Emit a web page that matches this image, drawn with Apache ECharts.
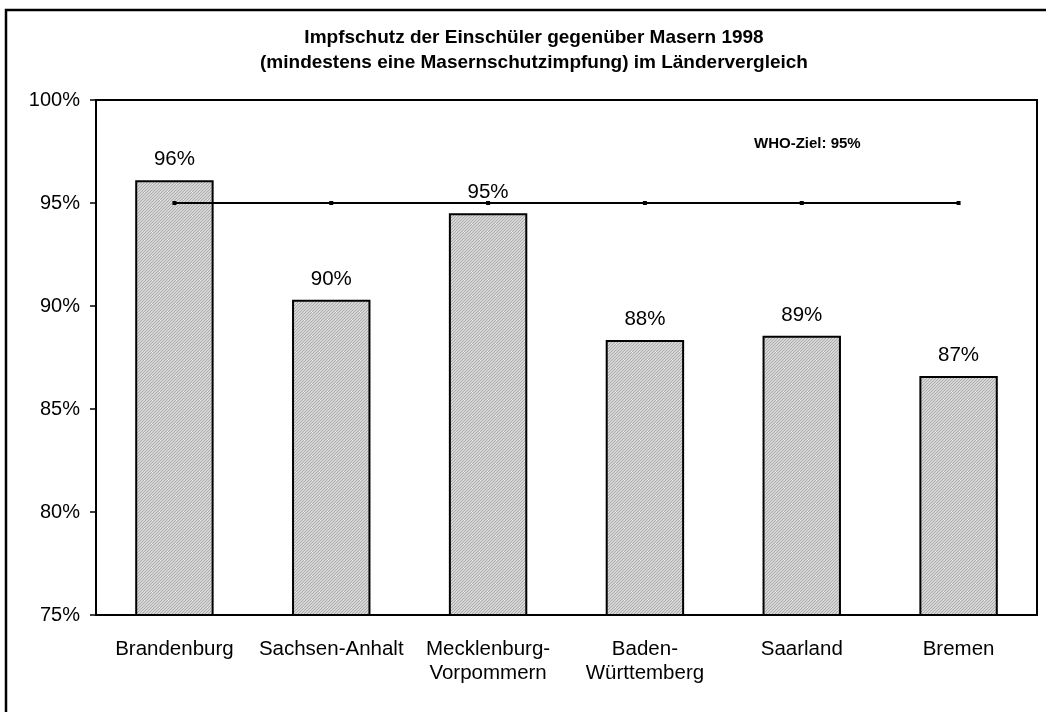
<!DOCTYPE html>
<html>
<head>
<meta charset="utf-8">
<script src="https://cdn.jsdelivr.net/npm/echarts@6/dist/echarts.min.js"></script>
<style>
html,body{margin:0;padding:0;background:#fff;}
#chart{width:1046px;height:712px;}
</style>
</head>
<body>
<div id="chart"></div>
<script>
const categories = ['Brandenburg', 'Sachsen-Anhalt', 'Mecklenburg-\nVorpommern', 'Baden-\nWürttemberg', 'Saarland', 'Bremen'];
const values = [96.1, 90.3, 94.5, 88.35, 88.55, 86.6];
const whoTarget = [95, 95, 95, 95, 95, 95];
const yTicks = { min: 75, max: 100, interval: 5 };
const titleLines = ['Impfschutz der Einschüler gegenüber Masern 1998', '(mindestens eine Masernschutzimpfung) im Ländervergleich'];
const whoLabel = 'WHO-Ziel: 95%';

// hatched fill pattern
const pc = document.createElement('canvas');
pc.width = 3; pc.height = 3;
const px = pc.getContext('2d');
px.fillStyle = '#d6d6d6';
px.fillRect(0, 0, 3, 3);
px.fillStyle = '#acacac';
for (let i = 0; i < 3; i++) px.fillRect(2 - i, i, 1, 1);

const FONT = 'Liberation Sans, Arial, sans-serif';
const chart = echarts.init(document.getElementById('chart'), null, { renderer: 'canvas' });
chart.setOption({
  animation: false,
  backgroundColor: '#fff',
  graphic: [
    { type: 'rect', shape: { x: 6, y: 10, width: 1100, height: 800 }, style: { fill: 'none', stroke: '#000', lineWidth: 2.5 }, z: 100 },
    { type: 'text', x: 534, y: 25, style: { text: titleLines.join('\n'), font: 'bold 19px ' + FONT, fill: '#000', align: 'center', verticalAlign: 'top', lineHeight: 25 } },
    { type: 'text', x: 754, y: 136, style: { text: whoLabel, font: 'bold 15px ' + FONT, fill: '#000', align: 'left', verticalAlign: 'top' } }
  ],
  grid: { left: 96, right: 9, top: 100, bottom: 97, show: true, borderColor: '#000', borderWidth: 2, backgroundColor: 'transparent' },
  xAxis: {
    type: 'category',
    data: categories,
    axisLine: { lineStyle: { color: '#000', width: 2 } },
    axisTick: { show: false },
    axisLabel: { color: '#000', fontSize: 20.5, fontFamily: FONT, margin: 22, lineHeight: 24, interval: 0 }
  },
  yAxis: {
    type: 'value',
    min: yTicks.min, max: yTicks.max, interval: yTicks.interval,
    axisLine: { show: true, lineStyle: { color: '#000', width: 2 } },
    axisTick: { show: true, length: 6, lineStyle: { color: '#000', width: 1.5 } },
    splitLine: { show: false },
    axisLabel: { color: '#000', fontSize: 20, fontFamily: FONT, margin: 16, formatter: '{value}%' }
  },
  series: [
    {
      type: 'bar',
      data: values,
      barWidth: '50%',
      itemStyle: { color: { image: pc, repeat: 'repeat' }, borderColor: '#000', borderWidth: 2 },
      label: {
        show: true, position: 'top', distance: 10, color: '#000', fontSize: 20.5, fontFamily: FONT,
        formatter: p => Math.round(p.value) + '%'
      },
      z: 2
    },
    {
      type: 'line',
      data: whoTarget,
      symbol: 'rect',
      symbolSize: 4,
      itemStyle: { color: '#000' },
      lineStyle: { color: '#000', width: 2 },
      z: 3
    }
  ]
});
</script>
</body>
</html>
